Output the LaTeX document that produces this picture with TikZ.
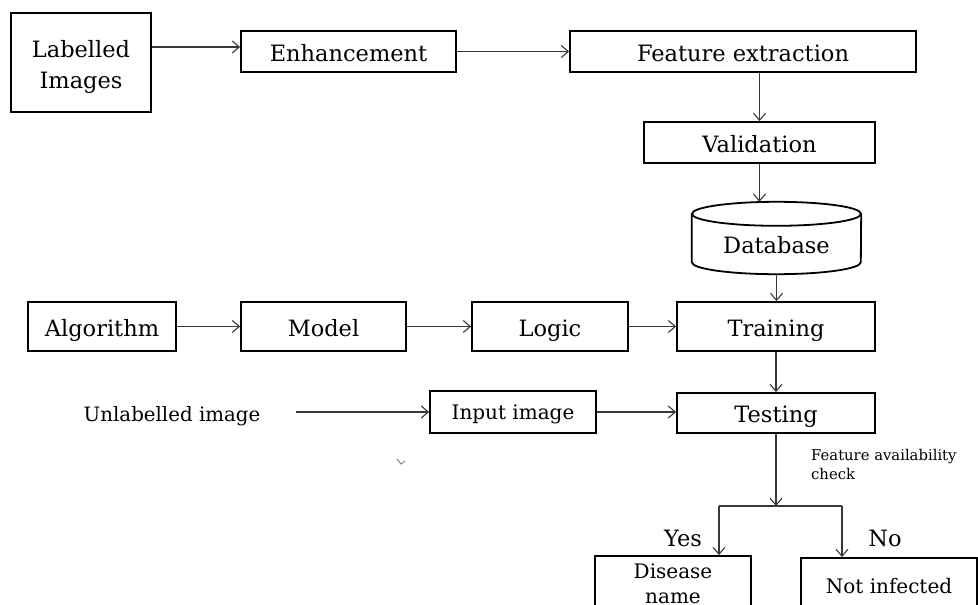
\documentclass[tikz,border=0pt]{standalone}
\usepackage{fontspec}
\setmainfont{DejaVu Serif}
\usetikzlibrary{arrows.meta,calc}
\newcommand\mainfs{\fontsize{22.5}{31}\selectfont}
\newcommand\midfs{\fontsize{20}{24.5}\selectfont}
\newcommand\smallfs{\fontsize{14.8}{19}\selectfont}
\tikzset{
  box/.style={draw=black, line width=1.8pt, inner sep=0pt, align=center, font=\mainfs},
  onebox/.style={box, text height=19pt, text depth=0pt},
  conn/.style={draw=black!78, line width=1.1pt, -{Straight Barb[length=7pt,width=12pt]}},
  plain/.style={draw=black!78, line width=1.1pt},
  lbl/.style={inner sep=0pt, font=\mainfs},
}
\begin{document}
\begin{tikzpicture}[x=1pt,y=1pt]
\useasboundingbox (0,0) rectangle (978,-605);
\clip (0,0) rectangle (978,-605);
\fill[white] (0,0) rectangle (978,-605);

% top row
\node[box, minimum width=140pt, minimum height=99pt] (LI) at (81,-62.5) {\rule{0pt}{25pt}Labelled\\Images};
\node[onebox, minimum width=215pt, minimum height=41pt] (EN) at (348.5,-51.5) {Enhancement};
\node[onebox, minimum width=346pt, minimum height=41pt] (FE) at (743,-51.5) {Feature extraction};
\node[onebox, minimum width=231pt, minimum height=41pt] (VA) at (759.5,-142.5) {Validation};

% database cylinder
\node[inner sep=0pt, minimum width=169pt, minimum height=72pt] (DB) at (776.5,-238) {};
\draw[line width=1.8pt] ($(DB.north)+(0,-12)$) ellipse [x radius=84.5pt, y radius=12pt];
\draw[line width=1.8pt] ($(DB.north west)+(0,-12)$) -- ($(DB.south west)+(0,12)$)
   arc[start angle=180, end angle=360, x radius=84.5pt, y radius=12pt]
   -- ($(DB.north east)+(0,-12)$);
\node[lbl, anchor=base] (DBT) at ($(DB.center)+(0,-15)$) {Database};

% middle row
\node[onebox, minimum width=148pt, minimum height=49pt] (AL) at (102,-326.5) {Algorithm};
\node[onebox, minimum width=165pt, minimum height=49pt] (MO) at (323.5,-326.5) {Model};
\node[onebox, minimum width=156pt, minimum height=49pt] (LO) at (550,-326.5) {Logic};
\node[onebox, minimum width=198pt, minimum height=49pt] (TR) at (776,-326.5) {Training};

% testing row
\node[inner sep=0pt, font=\fontsize{19.8}{23}\selectfont] (UL) at (172,-416) {Unlabelled image};
\node[box, font=\midfs, text height=15pt, text depth=0pt, minimum width=166pt, minimum height=42pt] (IN) at (513,-412) {Input image};
\node[onebox, minimum width=198pt, minimum height=40pt] (TE) at (776,-413) {Testing};
\coordinate (ULa) at (296,-412);

\node[inner sep=0pt, font=\smallfs, align=left, anchor=north west] (FA) at (811,-448.6) {Feature availability\\check};

% outcomes
\coordinate (SP) at (777,-506);
\coordinate (BL) at (719,-506);
\coordinate (BR) at (842,-506);
\node[lbl] (YES) at (683,-538.5) {Yes};
\node[lbl] (NO) at (885,-538) {No};
\node[box, font=\midfs, minimum width=156pt, minimum height=56pt] (DN) at (673,-584) {Disease\\name};
\node[box, font=\midfs, minimum width=176pt, minimum height=56pt] (NI) at (889,-586) {Not infected};

% connectors
\draw[conn] ([yshift=15.5pt]LI.east) -- ([yshift=4.5pt]EN.west);
\draw[conn] (EN.east) -- (FE.west);
\draw[conn] (FE.south -| VA.north) -- (VA.north);
\draw[conn] (VA.south) -- (VA.south |- DB.north);
\draw[conn] (DB.south) -- (DB.south |- TR.north);
\draw[conn] (AL.east) -- (MO.west);
\draw[conn] (MO.east) -- (LO.west);
\draw[conn] (LO.east) -- (TR.west);
\draw[conn] (TR.south) -- (TE.north);
\draw[conn] (ULa) -- (IN.west);
\draw[conn] (IN.east) -- (IN.east -| TE.west);
\draw[conn] (TE.south) -- (TE.south |- SP);
\draw[plain] (BL) -- (BR);
\draw[conn] (BL) -- (BL |- DN.north);
\draw[conn] (BR) -- (BR |- NI.north);

% small stray mark
\draw[black!55, line width=0.8pt] (397,-459) -- (401,-464) -- (405,-461);
\end{tikzpicture}
\end{document}
